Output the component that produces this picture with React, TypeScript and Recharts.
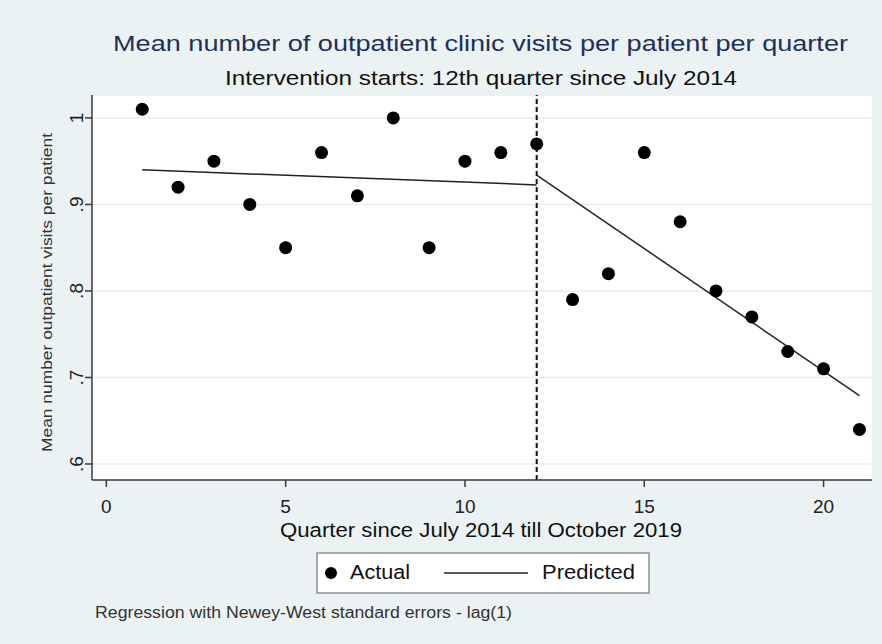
import { ComposedChart, Scatter, Line, XAxis, YAxis, CartesianGrid, ReferenceLine } from 'recharts';

// quarter index since July 2014
const quarters = [1, 2, 3, 4, 5, 6, 7, 8, 9, 10, 11, 12, 13, 14, 15, 16, 17, 18, 19, 20, 21];
const actualVisits = [
    1.01, 0.92, 0.95, 0.9, 0.85, 0.96, 0.91, 1.0, 0.85, 0.95, 0.96, 0.97, 0.79, 0.82, 0.96, 0.88, 0.8, 0.77,
    0.73, 0.71, 0.64,
];

// fitted segments before / after the intervention
const preQuarters = [1, 12];
const prePredicted = [0.94, 0.9226];
const postQuarters = [12, 21];
const postPredicted = [0.934, 0.679];

const interventionQuarter = 12;
const xTicks = [0, 5, 10, 15, 20];
const yTicks = [0.6, 0.7, 0.8, 0.9, 1];

const actualData = quarters.map((q, i) => ({ x: q, y: actualVisits[i] }));
const preData = preQuarters.map((q, i) => ({ x: q, y: prePredicted[i] }));
const postData = postQuarters.map((q, i) => ({ x: q, y: postPredicted[i] }));

const BG = '#eaf2f3';
const AXIS = '#3a3a3a';
const FONT = '"Liberation Sans", Arial, sans-serif';

const yLabel = (v: number) => (v === 1 ? '1' : '.' + Math.round(v * 10));

const XTick = ({ x, y, payload }: any) => (
    <text x={x} y={y + 24} textAnchor="middle" fontSize={19} fontFamily={FONT} fill="#222">
        {payload.value}
    </text>
);

const YTick = ({ x, y, payload }: any) => (
    <text
        x={x}
        y={y}
        transform={`rotate(-90, ${x}, ${y})`}
        textAnchor="middle"
        fontSize={19}
        fontFamily={FONT}
        fill="#222"
    >
        {yLabel(payload.value)}
    </text>
);

const Dot = ({ cx, cy }: any) => <circle cx={cx} cy={cy} r={6.5} fill="#000" />;

const fit = { lengthAdjust: 'spacingAndGlyphs' as const };

export default function App() {
    return (
        <div style={{ position: 'absolute', left: 0, top: 0, width: 882, height: 644, background: BG }}>
            <ComposedChart width={882} height={644} data={actualData} margin={{ top: 95, right: 10, left: 0, bottom: 0 }}>
                <CartesianGrid vertical={false} fill="#ffffff" stroke="#e6eef0" strokeWidth={1.5} />
                <XAxis
                    type="number"
                    dataKey="x"
                    domain={[-0.4, 21.35]}
                    ticks={xTicks}
                    allowDataOverflow
                    height={164}
                    tickSize={7}
                    tick={<XTick />}
                    stroke={AXIS}
                    strokeWidth={1.5}
                />
                <YAxis
                    type="number"
                    dataKey="y"
                    domain={[0.5815, 1.0265]}
                    ticks={yTicks}
                    allowDataOverflow
                    width={92}
                    tickSize={7}
                    tick={<YTick />}
                    stroke={AXIS}
                    strokeWidth={1.5}
                />
                <ReferenceLine x={interventionQuarter} stroke="#111" strokeWidth={2} strokeDasharray="5 3" />
                <Line
                    data={preData}
                    dataKey="y"
                    stroke="#222"
                    strokeWidth={1.5}
                    dot={false}
                    isAnimationActive={false}
                />
                <Line
                    data={postData}
                    dataKey="y"
                    stroke="#222"
                    strokeWidth={1.5}
                    dot={false}
                    isAnimationActive={false}
                />
                <Scatter data={actualData} dataKey="y" shape={<Dot />} isAnimationActive={false} />
            </ComposedChart>
            <svg
                width={882}
                height={644}
                style={{ position: 'absolute', left: 0, top: 0, pointerEvents: 'none' }}
                fontFamily={FONT}
            >
                <text x={113} y={51} fontSize={22} fill="#1f2f5c" textLength={735} {...fit}>
                    Mean number of outpatient clinic visits per patient per quarter
                </text>
                <text x={225} y={85} fontSize={20.5} fill="#111" textLength={512} {...fit}>
                    Intervention starts: 12th quarter since July 2014
                </text>
                <text
                    x={52}
                    y={452}
                    transform="rotate(-90, 52, 452)"
                    fontSize={15.5}
                    fill="#333"
                    textLength={319}
                    {...fit}
                >
                    Mean number outpatient visits per patient
                </text>
                <text x={280} y={537} fontSize={19.5} fill="#111" textLength={402} {...fit}>
                    Quarter since July 2014 till October 2019
                </text>
                <rect x={317} y={553} width={332} height={40} fill="#fff" stroke="#777" strokeWidth={1.2} />
                <circle cx={331} cy={573} r={6} fill="#000" />
                <text x={350} y={579} fontSize={19.5} fill="#111" textLength={60} {...fit}>
                    Actual
                </text>
                <line x1={444} y1={573} x2={528} y2={573} stroke="#222" strokeWidth={1.5} />
                <text x={542} y={579} fontSize={19.5} fill="#111" textLength={93} {...fit}>
                    Predicted
                </text>
                <text x={95} y={618} fontSize={16} fill="#333" textLength={417} {...fit}>
                    Regression with Newey-West standard errors - lag(1)
                </text>
            </svg>
        </div>
    );
}
